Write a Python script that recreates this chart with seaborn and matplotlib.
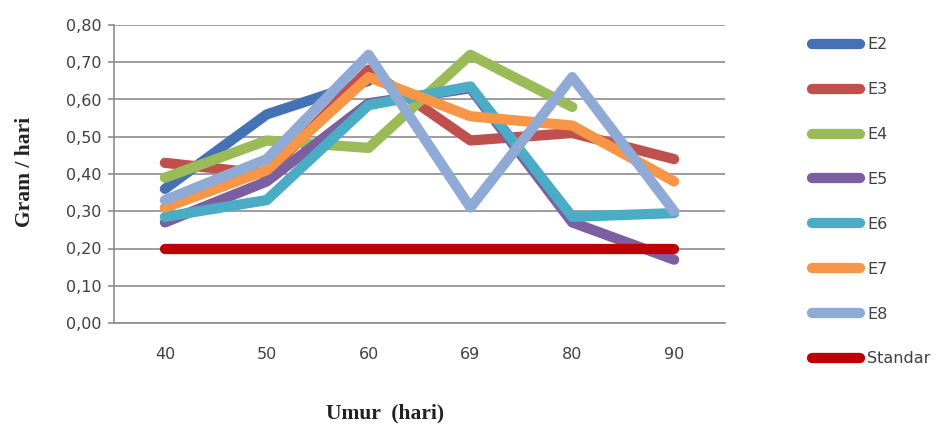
import numpy as np
import pandas as pd
import matplotlib
matplotlib.use("Agg")
import matplotlib.pyplot as plt
from matplotlib.lines import Line2D
from matplotlib.ticker import FuncFormatter
import seaborn as sns

# Umur (hari) categories
ages = ["40", "50", "60", "69", "80", "90"]

# Pertambahan bobot (gram / hari) per perlakuan; None = tidak ada data
e2 = [0.36, 0.56, 0.65, None, None, None]
e3 = [0.43, 0.40, 0.68, 0.49, 0.51, 0.44]
e4 = [0.39, 0.49, 0.47, 0.72, 0.58, None]
e5 = [0.27, 0.38, 0.59, 0.63, 0.27, 0.17]
e6 = [0.285, 0.33, 0.585, 0.635, 0.285, 0.295]
e7 = [0.31, 0.41, 0.66, 0.555, 0.53, 0.38]
e8 = [0.33, 0.44, 0.72, 0.31, 0.66, 0.30]
standar = [0.20, 0.20, 0.20, 0.20, 0.20, 0.20]

series_names = ["E2", "E3", "E4", "E5", "E6", "E7", "E8", "Standar"]
series_values = [e2, e3, e4, e5, e6, e7, e8, standar]
colors = ["#4472B4", "#C0504D", "#9BBB59", "#7B5FA0", "#4BACC6", "#F79646",
          "#90AAD6", "#C00000"]

rows = []
for name, vals in zip(series_names, series_values):
    for i, v in enumerate(vals):
        if v is not None:
            rows.append({"pos": i, "value": v, "series": name})
df = pd.DataFrame(rows)

sns.set_style("white")
plt.rcParams["font.family"] = ["DejaVu Sans"]

fig = plt.figure(figsize=(9.53, 4.30), dpi=100)
ax = fig.add_axes([114 / 953, 1 - 323 / 430, (725 - 114) / 953, (323 - 25) / 430])

lw = 7.4
sns.lineplot(data=df, x="pos", y="value", hue="series", hue_order=series_names,
             palette=dict(zip(series_names, colors)), linewidth=lw,
             sort=False, estimator=None, legend=False, ax=ax,
             solid_capstyle="round", solid_joinstyle="round")

ax.set_xlim(-0.5, len(ages) - 0.5)
ax.set_ylim(0, 0.80)
ax.set_yticks(np.arange(0, 0.81, 0.1))
ax.yaxis.set_major_formatter(FuncFormatter(lambda v, p: f"{v:.2f}".replace(".", ",")))
ax.set_xticks(range(len(ages)))
ax.set_xticklabels(ages)

ax.yaxis.grid(True, color="#8c8c8c", linewidth=1.2, zorder=0)
ax.set_axisbelow(True)
for s in ["top", "right"]:
    ax.spines[s].set_visible(False)
for s in ["left", "bottom"]:
    ax.spines[s].set_color("#8c8c8c")
    ax.spines[s].set_linewidth(1.2)

ax.tick_params(axis="y", which="major", length=4, color="#8c8c8c", width=1.2,
               labelsize=11.5, labelcolor="#404040", pad=5, left=True)
ax.tick_params(axis="x", which="major", length=0, labelsize=11.5,
               labelcolor="#404040", pad=17)

ax.set_xlabel("")
ax.set_ylabel("")
fig.text(25 / 953, 1 - 172 / 430, "Gram / hari", rotation=90, ha="center",
         va="center", family="Liberation Serif", fontweight="bold", fontsize=15.5,
         color="#222222")
fig.text(385 / 953, 1 - 413 / 430, "Umur  (hari)", ha="center", va="center",
         family="Liberation Serif", fontweight="bold", fontsize=15.5,
         color="#222222")

handles = [Line2D([0], [0], color=c, linewidth=lw, solid_capstyle="round")
           for c in colors]
leg = fig.legend(handles, series_names, loc="upper left",
                 bbox_to_anchor=(798 / 953, 1 - 23 / 430), frameon=False,
                 handlelength=3.0, handletextpad=0.45, labelspacing=1.87,
                 fontsize=11.5)
for t in leg.get_texts():
    t.set_color("#404040")

fig.savefig("out.png", dpi=100, facecolor="white")
